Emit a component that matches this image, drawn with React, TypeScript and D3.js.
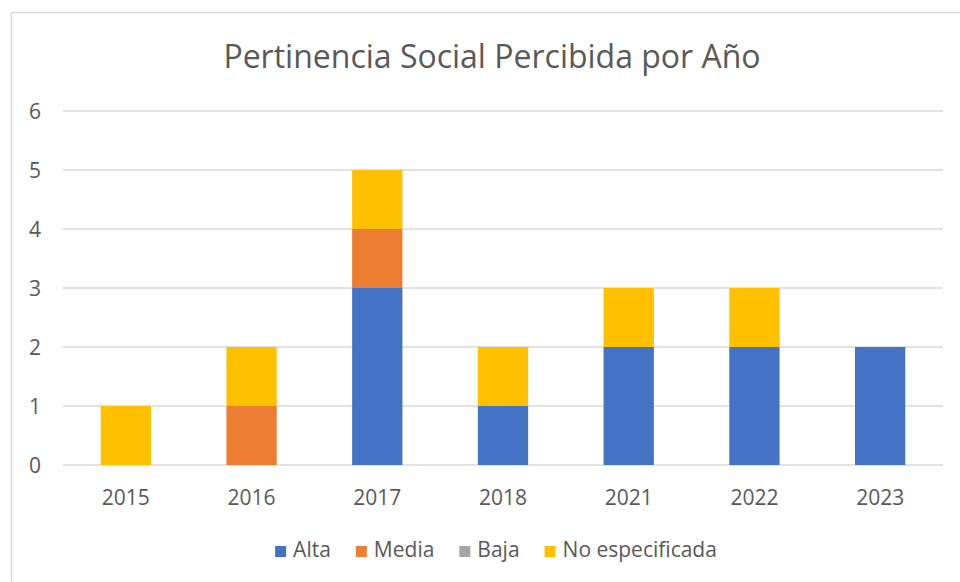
import React, { useRef, useLayoutEffect } from 'react';
import * as d3 from 'd3';

const years = ['2015', '2016', '2017', '2018', '2021', '2022', '2023'];
const seriesNames = ['Alta', 'Media', 'Baja', 'No especificada'];
const alta = [0, 0, 3, 1, 2, 2, 2];
const media = [0, 1, 1, 0, 0, 0, 0];
const baja = [0, 0, 0, 0, 0, 0, 0];
const noEspecificada = [1, 1, 1, 1, 1, 1, 0];
const yTicks = [0, 1, 2, 3, 4, 5, 6];
const colors = ['#4472C4', '#ED7D31', '#A5A5A5', '#FFC000'];

const FONT = "'Open Sans', 'Noto Sans', sans-serif";
const TEXT = '#595959';

const App = () => {
    const ref = useRef<SVGSVGElement>(null);

    useLayoutEffect(() => {
        const svg = d3.select(ref.current);
        svg.selectAll('*').remove();
        const W = 960, H = 582;
        const margin = { top: 111, right: 17, bottom: 117, left: 63 };
        const width = W - margin.left - margin.right;
        const height = H - margin.top - margin.bottom;

        // chart border
        svg.append('rect')
            .attr('x', 11.5).attr('y', 12.5)
            .attr('width', 960).attr('height', 600)
            .attr('fill', '#fff')
            .attr('stroke', '#D9D9D9')
            .attr('stroke-width', 1.5);

        svg.append('text')
            .attr('x', 492).attr('y', 68)
            .attr('text-anchor', 'middle')
            .style('font-family', FONT)
            .style('font-size', '32px')
            .attr('fill', TEXT)
            .text('Pertinencia Social Percibida por Año');

        const g = svg.append('g')
            .attr('transform', 'translate(' + margin.left + ',' + margin.top + ')');

        const x = d3.scaleBand()
            .domain(years)
            .range([0, width])
            .paddingInner(0.6)
            .paddingOuter(0.3);

        const y = d3.scaleLinear()
            .domain([0, 6])
            .range([height, 0]);

        // gridlines
        g.append('g')
            .selectAll('line')
            .data(yTicks)
            .enter().append('line')
            .attr('x1', 0).attr('x2', width)
            .attr('y1', d => y(d)).attr('y2', d => y(d))
            .attr('stroke', '#D9D9D9')
            .attr('stroke-width', 1.5);

        // y labels
        g.append('g')
            .selectAll('text')
            .data(yTicks)
            .enter().append('text')
            .attr('x', -22)
            .attr('y', d => y(d))
            .attr('dy', '0.36em')
            .attr('text-anchor', 'end')
            .style('font-family', FONT)
            .style('font-size', '21px')
            .attr('fill', TEXT)
            .text(d => d);

        // stacked bars
        const rows = years.map((yr, i) => ({
            year: yr,
            Alta: alta[i],
            Media: media[i],
            Baja: baja[i],
            'No especificada': noEspecificada[i]
        }));
        const stacked = d3.stack().keys(seriesNames)(rows as any);

        g.append('g')
            .selectAll('g')
            .data(stacked)
            .enter().append('g')
            .attr('fill', (_, i) => colors[i])
            .selectAll('rect')
            .data(d => d)
            .enter().append('rect')
            .attr('x', (d: any) => x(d.data.year))
            .attr('y', d => y(d[1]))
            .attr('width', x.bandwidth())
            .attr('height', d => y(d[0]) - y(d[1]));

        // x labels
        g.append('g')
            .selectAll('text')
            .data(years)
            .enter().append('text')
            .attr('x', d => x(d) + x.bandwidth() / 2)
            .attr('y', height + 40)
            .attr('text-anchor', 'middle')
            .style('font-family', FONT)
            .style('font-size', '21px')
            .attr('fill', TEXT)
            .text(d => d);

        // legend
        const legend = svg.append('g');
        const items = legend.selectAll('g')
            .data(seriesNames)
            .enter().append('g');
        items.append('rect')
            .attr('y', -11)
            .attr('width', 11).attr('height', 11)
            .attr('fill', (_, i) => colors[i]);
        const widths: number[] = [];
        items.append('text')
            .attr('x', 18)
            .style('font-family', FONT)
            .style('font-size', '21px')
            .attr('fill', TEXT)
            .text(d => d)
            .each(function () {
                widths.push((this as SVGTextElement).getComputedTextLength());
            });
        const gap = 25;
        const total = d3.sum(widths.map(w => 18 + w)) + gap * (widths.length - 1);
        let cx = 496 - total / 2;
        items.attr('transform', (_, i) => {
            const t = 'translate(' + cx + ',' + 557 + ')';
            cx += 18 + widths[i] + gap;
            return t;
        });
    }, []);

    return (
        <svg ref={ref} width={960} height={582}
            style={{ position: 'absolute', left: 0, top: 0, background: '#fff' }}></svg>
    );
};

export default App;
